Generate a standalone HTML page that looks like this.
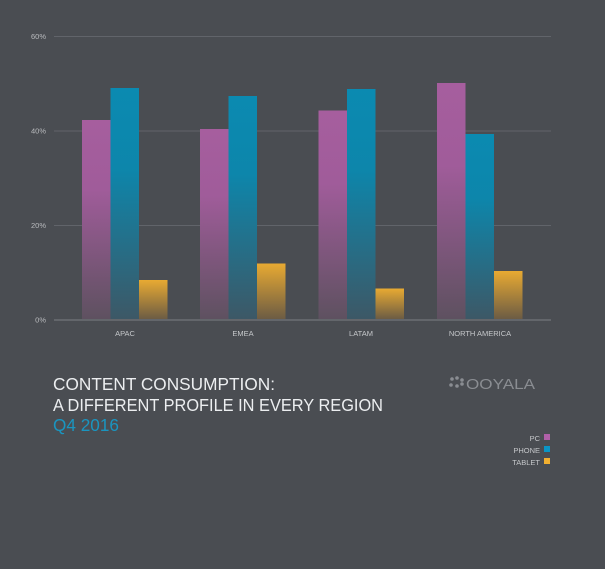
<!DOCTYPE html>
<html><head><meta charset="utf-8"><style>
body{margin:0;background:#4a4d52;}
svg{display:block;font-family:"Liberation Sans",sans-serif;}
</style></head><body>
<svg width="605" height="569" viewBox="0 0 605 569">
<defs>
<linearGradient id="pc" x1="0" y1="0" x2="0" y2="1"><stop offset="0" stop-color="#a65e9e"/><stop offset="0.35" stop-color="#a05c9a"/><stop offset="1" stop-color="#5e5160"/></linearGradient>
<linearGradient id="ph" x1="0" y1="0" x2="0" y2="1"><stop offset="0" stop-color="#0b8ab1"/><stop offset="0.35" stop-color="#0d86ab"/><stop offset="1" stop-color="#3d5866"/></linearGradient>
<linearGradient id="tb" x1="0" y1="0" x2="0" y2="1"><stop offset="0" stop-color="#e8aa32"/><stop offset="1" stop-color="#6c5c44"/></linearGradient>
</defs>
<rect width="605" height="569" fill="#4a4d52"/>
<g stroke="#61646a" stroke-width="1">
<line x1="54" y1="36.5" x2="551" y2="36.5"/>
<line x1="54" y1="131" x2="551" y2="131"/>
<line x1="54" y1="225.5" x2="551" y2="225.5"/>
</g>
<line x1="54" y1="320" x2="551" y2="320" stroke="#63666b" stroke-width="2"/>
<g fill="#b9bbbe" font-size="7.5" text-anchor="end">
<text x="46" y="39">60%</text><text x="46" y="133.5">40%</text><text x="46" y="228">20%</text><text x="46" y="322.5">0%</text>
</g>
<g>
<rect x="82" y="120" width="28.5" height="199" fill="url(#pc)"/>
<rect x="110.5" y="88" width="28.5" height="231" fill="url(#ph)"/>
<rect x="139" y="280" width="28.5" height="39" fill="url(#tb)"/>
<rect x="200" y="129" width="28.5" height="190" fill="url(#pc)"/>
<rect x="228.5" y="96" width="28.5" height="223" fill="url(#ph)"/>
<rect x="257" y="263.5" width="28.5" height="55.5" fill="url(#tb)"/>
<rect x="318.5" y="110.5" width="28.5" height="208.5" fill="url(#pc)"/>
<rect x="347" y="89" width="28.5" height="230" fill="url(#ph)"/>
<rect x="375.5" y="288.5" width="28.5" height="30.5" fill="url(#tb)"/>
<rect x="437" y="83" width="28.5" height="236" fill="url(#pc)"/>
<rect x="465.5" y="134" width="28.5" height="185" fill="url(#ph)"/>
<rect x="494" y="271" width="28.5" height="48" fill="url(#tb)"/>
</g>
<g fill="#c5c7ca" font-size="7.5" text-anchor="middle">
<text x="125" y="336">APAC</text><text x="243" y="336">EMEA</text><text x="361" y="336">LATAM</text><text x="480" y="336">NORTH AMERICA</text>
</g>
<g font-size="17.5" fill="#eceef0" lengthAdjust="spacingAndGlyphs">
<text x="53" y="390" textLength="222" lengthAdjust="spacingAndGlyphs">CONTENT CONSUMPTION:</text>
<text x="53" y="411" textLength="330" lengthAdjust="spacingAndGlyphs">A DIFFERENT PROFILE IN EVERY REGION</text>
<text x="53" y="431" fill="#1a95c0" textLength="66" lengthAdjust="spacingAndGlyphs">Q4 2016</text>
</g>
<g fill="#8a8d92">
<circle cx="452" cy="379" r="1.8"/><circle cx="457" cy="378" r="1.8"/><circle cx="462" cy="380" r="1.8"/><circle cx="451" cy="385" r="1.8"/><circle cx="457" cy="386" r="1.8"/><circle cx="462" cy="384" r="1.8"/>
<text x="466" y="389" font-size="15" textLength="69" lengthAdjust="spacingAndGlyphs">OOYALA</text>
</g>
<g fill="#c5c7ca" font-size="7.5" text-anchor="end">
<text x="540" y="441">PC</text><text x="540" y="453">PHONE</text><text x="540" y="465">TABLET</text>
</g>
<rect x="544" y="434" width="6" height="6" fill="#b060a8"/>
<rect x="544" y="446" width="6" height="6" fill="#0a95c5"/>
<rect x="544" y="458" width="6" height="6" fill="#f2b030"/>
</svg>
</body></html>
